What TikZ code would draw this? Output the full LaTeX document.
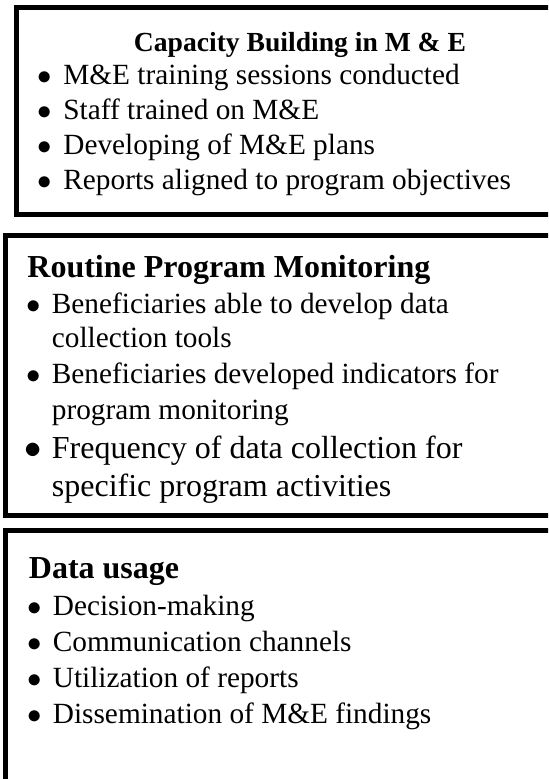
\documentclass[tikz,border=0pt]{standalone}
\usepackage{fontspec}
\setmainfont{Liberation Serif}
\usetikzlibrary{positioning}

\tikzset{
 frame/.style={line width=2.5pt},
 head/.style={anchor=base west,inner sep=0pt,font=\fontsize{16}{18}\selectfont\bfseries},
 dot/.style={anchor=base,inner sep=0pt,font=\fontsize{14.65}{17}\selectfont},
 entry/.style={anchor=base west,inner sep=0pt,font=\fontsize{14.65}{17}\selectfont}
}

\begin{document}
\begin{tikzpicture}[x=.5pt,y=-.5pt]
\useasboundingbox (0,0) rectangle (548,779);
\clip (0,0) rectangle (548,779);
% the three frames, cut off on the right
\draw[frame] (16.5,7.5) rectangle (590,214.5);
\draw[frame] (5.5,235.5) rectangle (590,515.5);
\draw[frame] (5.5,530.5) rectangle (590,782);

% capacity building
\node[head,anchor=base,font=\fontsize{13.8}{16}\selectfont\bfseries] (cbhead) at (300,52) {Capacity Building in M \& E};
\foreach \t [count=\i] in {M\&E training sessions conducted,Staff trained on M\&E,Developing of M\&E plans,Reports aligned to program objectives}{
 \node[dot] (cbdot\i) at (45,50+35*\i) {$\bullet$};
 \node[entry] (cbitem\i) at (63,50+35*\i) {\t};
}

% routine monitoring
\node[head] (rmhead) at (27,278) {Routine Program Monitoring};
\node[dot] (rmdot1) at (33.5,314) {$\bullet$};
\node[entry] (rmitem1) at (51.5,314) {Beneficiaries able to develop data};
\node[entry] (rmitem1b) at (51.5,348) {collection tools};
\node[dot] (rmdot2) at (33.5,384) {$\bullet$};
\node[entry] (rmitem2) at (51.5,384) {Beneficiaries developed indicators for};
\node[entry] (rmitem2b) at (51.5,419) {program monitoring};
\node[dot,font=\fontsize{16}{18}\selectfont] (rmdot3) at (33.5,458) {$\bullet$};
\node[entry,font=\fontsize{16}{18}\selectfont] (rmitem3) at (51.5,458) {Frequency of data collection for};
\node[entry,font=\fontsize{16}{18}\selectfont] (rmitem3b) at (51.5,496) {specific program activities};

% data usage
\node[head] (duhead) at (28.5,578) {Data usage};
\foreach \t [count=\i] in {Decision-making,Communication channels,Utilization of reports,Dissemination of M\&E findings}{
 \node[dot] (dudot\i) at (35,579+36*\i) {$\bullet$};
 \node[entry] (duitem\i) at (52.5,579+36*\i) {\t};
}
\end{tikzpicture}
\end{document}
